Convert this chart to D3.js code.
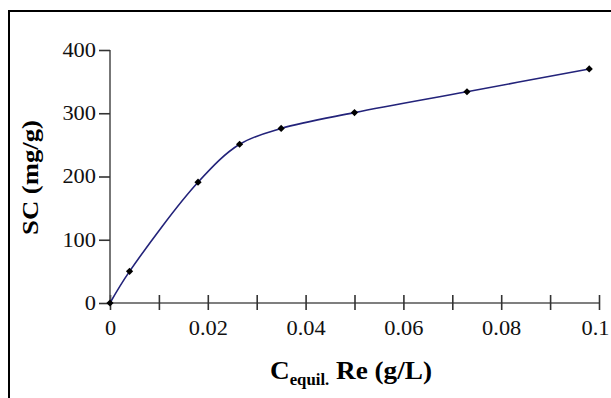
<!DOCTYPE html>
<html>
<head>
<meta charset="utf-8">
<script src="https://cdn.jsdelivr.net/npm/d3@7"></script>
<style>
  body { margin: 0; background: #fff; }
  svg text { font-family: "Liberation Serif", "Times New Roman", serif; }
  .xaxis text, .yaxis text { font-size: 20px; fill: #111; }
</style>
</head>
<body>
<div id="container"></div>
<script>
let w = 611;
let h = 398;

// data
let concValues = [0, 0.004, 0.018, 0.0265, 0.035, 0.05, 0.073, 0.098];
let scValues = [0, 50, 191, 251, 276, 301, 334, 370];
let xTickValues = [0, 0.01, 0.02, 0.03, 0.04, 0.05, 0.06, 0.07, 0.08, 0.09, 0.1];
let xTickLabels = ["0", "", "0.02", "", "0.04", "", "0.06", "", "0.08", "", "0.1"];
let yTickValues = [0, 100, 200, 300, 400];

let points = concValues.map(function(c, i){
  return {x: c, y: scValues[i]};
});

let viz = d3.select("#container")
  .append("svg")
    .attr("width", w)
    .attr("height", h)
;

// outer frame
viz.append("rect")
  .attr("x", 9)
  .attr("y", 11)
  .attr("width", 640)
  .attr("height", 420)
  .attr("fill", "none")
  .attr("stroke", "#000")
  .attr("stroke-width", 2)
;

let xScale = d3.scaleLinear().domain([0, 0.1]).range([110, 599]);
let yScale = d3.scaleLinear().domain([0, 400]).range([303, 50]);

// the source picture is stretched sideways a bit
let stretch = 1.12;

// x axis, ticks crossing the line
let xAxisGroup = viz.append("g").attr("class", "xaxis")
  .attr("transform", "translate(0," + yScale(0) + ")");
xAxisGroup.call(d3.axisBottom(xScale)
  .tickValues(xTickValues)
  .tickSize(7)
  .tickFormat(function(d, i){ return xTickLabels[i]; }));
xAxisGroup.select(".domain").remove();
xAxisGroup.insert("line", ":first-child")
  .attr("x1", xScale(0)).attr("x2", xScale(0.1))
  .attr("stroke", "#555").attr("stroke-width", 1.6);
xAxisGroup.selectAll(".tick line")
  .attr("y1", -8)
  .attr("y2", 7)
  .attr("stroke", "#333")
  .attr("stroke-width", 1.6);
xAxisGroup.selectAll(".tick text")
  .attr("y", 0)
  .attr("dy", 0)
  .attr("transform", function(d, i){
    // last label sits at the picture's edge, nudge it in
    let dx = (i === xTickValues.length - 1) ? -4 : 0;
    return "translate(" + dx + ",32) scale(" + stretch + ",1)";
  });

// y axis
let yAxisGroup = viz.append("g").attr("class", "yaxis")
  .attr("transform", "translate(" + xScale(0) + ",0)");
yAxisGroup.call(d3.axisLeft(yScale)
  .tickValues(yTickValues)
  .tickSize(11));
yAxisGroup.select(".domain").remove();
yAxisGroup.insert("line", ":first-child")
  .attr("y1", yScale(0)).attr("y2", yScale(400))
  .attr("stroke", "#555").attr("stroke-width", 1.6);
yAxisGroup.selectAll(".tick line")
  .attr("stroke", "#333")
  .attr("stroke-width", 1.6);
yAxisGroup.selectAll(".tick text")
  .attr("x", 0)
  .attr("transform", "translate(-14,0) scale(" + stretch + ",1)");

// curve
let line = d3.line()
  .x(function(d){ return xScale(d.x); })
  .y(function(d){ return yScale(d.y); })
  .curve(d3.curveCatmullRom.alpha(0.5));

viz.append("path")
  .datum(points)
  .attr("d", line)
  .attr("fill", "none")
  .attr("stroke", "#23237a")
  .attr("stroke-width", 1.6);

// diamond markers
viz.append("g").selectAll("path.marker")
  .data(points)
  .enter()
  .append("path")
    .attr("class", "marker")
    .attr("d", d3.symbol().type(d3.symbolSquare).size(26))
    .attr("transform", function(d){ return "translate(" + xScale(d.x) + "," + yScale(d.y) + ") rotate(45)"; })
    .attr("fill", "#000");

// squeeze or widen a title so it spans the given width
function fitWidth(sel, target){
  let len = sel.node().getBBox().width;
  return target / len;
}

// axis titles
let yTitle = viz.append("text")
  .attr("text-anchor", "middle")
  .attr("font-size", 23)
  .attr("font-weight", "bold")
  .attr("fill", "#000")
  .text("SC (mg/g)");
let ySx = fitWidth(yTitle, 115);
yTitle.attr("transform", "translate(38,177.5) rotate(-90) scale(" + ySx + ",1)");

let xTitle = viz.append("text")
  .attr("text-anchor", "middle")
  .attr("font-size", 26)
  .attr("font-weight", "bold")
  .attr("fill", "#000");
xTitle.append("tspan").text("C");
xTitle.append("tspan").attr("font-size", 16).attr("dy", 6).text("equil.");
xTitle.append("tspan").attr("dy", -6).text(" Re (g/L)");
let xSx = fitWidth(xTitle, 162);
xTitle.attr("transform", "translate(351,379) scale(" + xSx + ",1)");
</script>
</body>
</html>
